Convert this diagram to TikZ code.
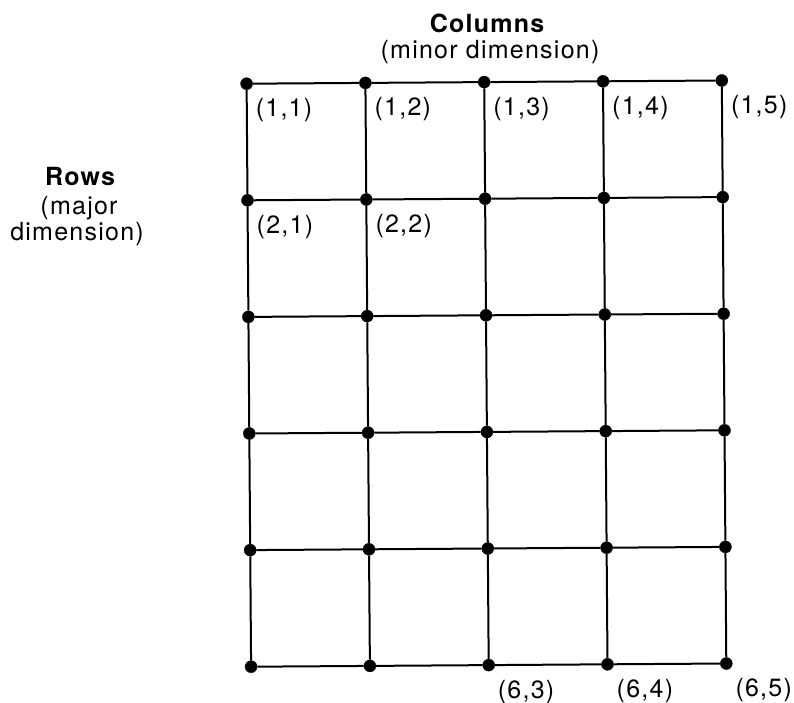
\documentclass[tikz,border=0pt]{standalone}
\usepackage{fontspec}
\setmainfont{TeX Gyre Heros}[LetterSpace=5]
\begin{document}
\begin{tikzpicture}[x=1pt,y=-1pt,
  dot/.style={circle,fill=black,draw=black,inner sep=0pt,minimum size=12pt},
  gridline/.style={line width=2pt,black},
  txt/.style={inner sep=0pt,anchor=base,font=\fontsize{25}{29}\selectfont},
  cell/.style={inner sep=0pt,anchor=base west,font=\fontsize{25}{29}\selectfont}]
\useasboundingbox (0,0) rectangle (794,702);

% headings
\node[txt,font=\fontsize{25}{29}\selectfont\bfseries] (colhead) at (487,32) {Columns};
\node[txt] (colsub) at (490,58) {(minor dimension)};
\node[txt,font=\fontsize{25}{29}\selectfont\bfseries] (rowhead) at (80,185) {Rows};
\node[txt] (rowsub1) at (79,214) {(major};
\node[txt] (rowsub2) at (77,240) {dimension)};

% lattice points, slightly skewed as drawn by hand
\foreach \r in {1,...,6}{
  \foreach \c in {1,...,5}{
    \pgfmathsetmacro\px{246.6+(\c-1)*118.8+(\r-1)*0.9}
    \pgfmathsetmacro\py{83.7-(\c-1)*0.8+(\r-1)*116.6}
    \node[dot] (d-\r-\c) at (\px,\py) {};
  }
}

% horizontal links
\foreach \r in {1,...,6}{
  \foreach \c [evaluate=\c as \n using int(\c+1)] in {1,...,4}{
    \draw[gridline] (d-\r-\c) -- (d-\r-\n);
  }
}
% vertical links
\foreach \c in {1,...,5}{
  \foreach \r [evaluate=\r as \n using int(\r+1)] in {1,...,5}{
    \draw[gridline] (d-\r-\c) -- (d-\n-\c);
  }
}

% element labels
\foreach \r/\c in {1/1,1/2,1/3,1/4,1/5,2/1,2/2,6/3,6/4,6/5}{
  \node[cell] (l-\r-\c) at ([xshift=9pt,yshift=-33pt]d-\r-\c.center) {(\r,\c)};
}
\end{tikzpicture}
\end{document}
